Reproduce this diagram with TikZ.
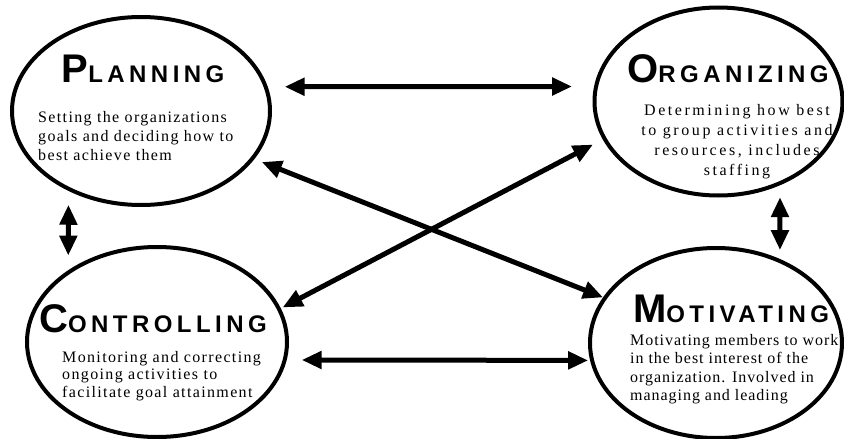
\documentclass[tikz,border=0pt]{standalone}
\usepackage{fontspec}
\setmainfont{Liberation Serif}
\newfontfamily\headfont{Liberation Sans}[LetterSpace=18.5]
\newfontfamily\bodyfont{Liberation Serif}[LetterSpace=8.5]
\newfontfamily\widebodyfont{Liberation Serif}[LetterSpace=16]
\newfontfamily\tightbodyfont{Liberation Serif}[LetterSpace=6]
\usetikzlibrary{shapes.geometric,arrows.meta}
\newcommand{\headword}[2]{{\headfont\bfseries\fontsize{40}{40}\selectfont #1\fontsize{24}{24}\selectfont #2}}

\begin{document}
\begin{tikzpicture}[x=1pt,y=-1pt,>={Triangle[length=20pt,width=17pt]},
        phase/.style={draw,ellipse,line width=4pt,inner sep=0pt,outer sep=0pt},
        link/.style={<->,line width=5pt},
        descr/.style={font=\bodyfont\fontsize{16}{18.5}\selectfont,inner sep=0pt}]
        \useasboundingbox (0,0) rectangle (844,439);
        % the four functions
        \node[phase,minimum width=258pt,minimum height=188pt] (plan) at (141,111) {};
        \node[phase,minimum width=248pt,minimum height=188pt] (org) at (718.5,101.5) {};
        \node[phase,minimum width=260pt,minimum height=190pt] (ctrl) at (157,342) {};
        \node[phase,minimum width=252pt,minimum height=190pt] (motv) at (716,343) {};
        \node[anchor=base] (plan-t) at (143,82) {\headword{P}{LANNING}};
        \node[anchor=base] (org-t) at (728,82) {\headword{O}{RGANIZING}};
        \node[anchor=base] (ctrl-t) at (153,332) {\headword{C}{ONTROLLING}};
        \node[anchor=base] (motv-t) at (731,322) {\headword{M}{OTIVATING}};
        % base = last line
        \node[descr,anchor=base west,align=left,font=\bodyfont\fontsize{16}{19}\selectfont] (plan-d) at (38,160) {Setting the organizations\\goals and deciding how to\\best achieve them};
        \node[descr,anchor=base,align=center,font=\widebodyfont\fontsize{16}{20}\selectfont] (org-d) at (737,175) {Determining how best\\to group activities  and\\resources, includes\\staffing};
        \node[descr,anchor=base west,align=left,font=\bodyfont\fontsize{16}{17.5}\selectfont] (ctrl-d) at (62,397) {Monitoring and correcting\\ongoing activities to\\facilitate goal attainment};
        \node[descr,anchor=base west,align=left,font=\tightbodyfont\fontsize{16}{18.5}\selectfont] (motv-d) at (630,400.5) {Motivating members to work\\in the best interest of the\\organization. Involved in\\managing and leading};
        % links
        \draw[link,shorten <=19pt,shorten >=24pt] (plan.11) -- (org.173);
        \draw[link,shorten <=17pt,shorten >=4pt] (ctrl.-8) -- (motv.188);
        \draw[link,shorten <=10pt,shorten >=2pt] (plan.-23) -- (motv.158);
        \draw[link,shorten <=4pt,shorten >=13pt] (ctrl.15) -- (org.198);
        \draw[link,shorten <=16pt,shorten >=17pt] (plan.227) -- (ctrl.142);
        \draw[link,shorten <=14pt,shorten >=11pt] (org.-53) -- (motv.52);
\end{tikzpicture}
\end{document}
